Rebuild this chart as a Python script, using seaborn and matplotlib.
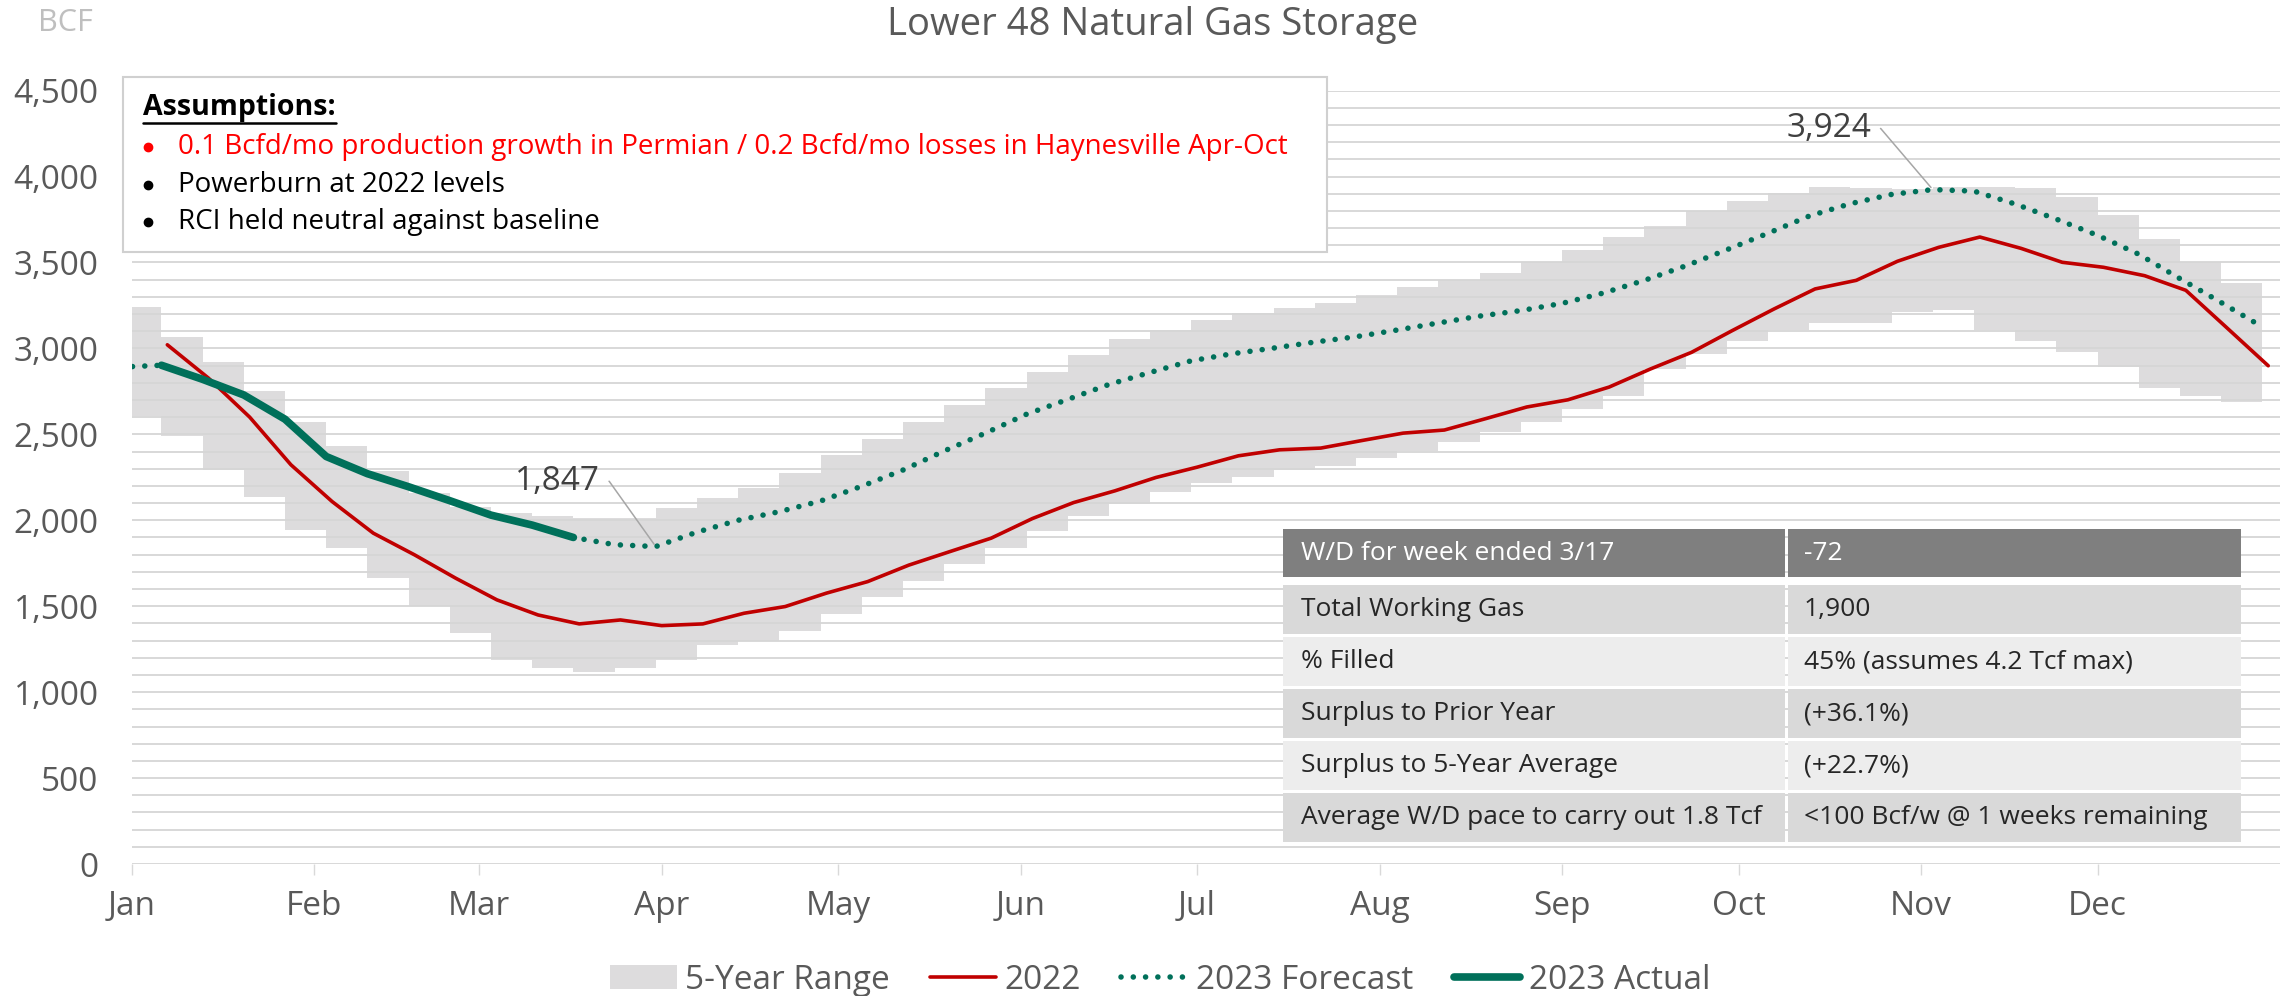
import numpy as np
import pandas as pd
import seaborn as sns
import matplotlib.pyplot as plt
from matplotlib.patches import Rectangle, Patch
from matplotlib.lines import Line2D
from matplotlib.ticker import FuncFormatter, MultipleLocator

## Data (BCF, weekly, weeks ending Friday)
range_high = [3241, 3066, 2922, 2750, 2571, 2433, 2288, 2158, 2080, 2045, 2026, 2012, 2012,
              2070, 2129, 2187, 2274, 2381, 2472, 2569, 2672, 2769, 2860, 2963, 3054, 3109,
              3163, 3206, 3235, 3264, 3313, 3360, 3400, 3440, 3500, 3572, 3649, 3714, 3801,
              3855, 3902, 3941, 3933, 3927, 3941, 3941, 3933, 3882, 3778, 3636, 3504, 3383]
range_low = [2604, 2493, 2290, 2134, 1944, 1837, 1663, 1502, 1343, 1187, 1139, 1119, 1139,
             1187, 1277, 1297, 1358, 1455, 1552, 1649, 1746, 1837, 1935, 2022, 2096, 2167,
             2216, 2251, 2290, 2313, 2362, 2405, 2455, 2513, 2574, 2645, 2723, 2878, 2966,
             3044, 3106, 3150, 3150, 3214, 3222, 3106, 3044, 2981, 2892, 2768, 2723, 2690]
storage_2022 = [3021, 2827, 2600, 2323, 2109, 1925, 1799, 1663, 1537, 1449, 1397, 1420, 1387,
                1397, 1459, 1498, 1576, 1643, 1739, 1818, 1896, 2010, 2103, 2171, 2249, 2309,
                2375, 2410, 2420, 2464, 2507, 2525, 2591, 2659, 2701, 2775, 2880, 2977, 3105,
                3229, 3346, 3396, 3507, 3588, 3648, 3582, 3501, 3472, 3423, 3338, 3119, 2899]
forecast_2023 = [2891, 2902, 2820, 2729, 2588, 2371, 2271, 2195, 2114, 2030, 1972, 1900, 1858,
                 1847, 1931, 2000, 2050, 2112, 2198, 2292, 2403, 2507, 2617, 2703, 2790, 2860,
                 2928, 2969, 3002, 3037, 3068, 3107, 3148, 3188, 3220, 3262, 3322, 3396, 3480,
                 3574, 3670, 3770, 3842, 3896, 3924, 3915, 3840, 3752, 3658, 3548, 3406, 3267, 3125]
actual_2023 = [2902, 2820, 2729, 2588, 2371, 2271, 2195, 2114, 2030, 1972, 1900]

months = ['Jan', 'Feb', 'Mar', 'Apr', 'May', 'Jun', 'Jul', 'Aug', 'Sep', 'Oct', 'Nov', 'Dec']

assumptions = ['0.1 Bcfd/mo production growth in Permian / 0.2 Bcfd/mo losses in Haynesville Apr-Oct',
               'Powerburn at 2022 levels',
               'RCI held neutral against baseline']
table_header = ['W/D for week ended 3/17', '-72']
table_labels = ['Total Working Gas', '% Filled', 'Surplus to Prior Year',
                'Surplus to 5-Year Average', 'Average W/D pace to carry out 1.8 Tcf']
table_values = ['1,900', '45% (assumes 4.2 Tcf max)', '(+36.1%)', '(+22.7%)',
                '<100 Bcf/w @ 1 weeks remaining']

## Dates
weeks_2023 = pd.date_range('2023-01-06', periods=52, freq='7D')
weeks_2022 = pd.date_range('2022-01-07', periods=52, freq='7D') + pd.DateOffset(years=1)
fc_dates = pd.date_range('2022-12-30', periods=len(forecast_2023), freq='7D')
band_x = weeks_2023.insert(0, weeks_2023[0] - pd.Timedelta(days=7))
band_hi = [range_high[0]] + range_high
band_lo = [range_low[0]] + range_low

red = '#c00000'
green = '#00705a'
band_col = '#dddcdd'
txt = '#595959'

sns.set_theme(style='white')
plt.rcParams['font.family'] = ['Open Sans', 'DejaVu Sans']

W, H = 2292, 996
fig = plt.figure(figsize=(W / 100, H / 100), dpi=100)
ax = fig.add_axes([132 / W, 1 - 864 / H, 2148 / W, (864 - 90.6) / H])

def fx(px):
    return px / W

def fy(py):
    return 1 - py / H

## Plot
ax.fill_between(band_x, band_lo, band_hi, step='pre', color=band_col, lw=0, zorder=1)
sns.lineplot(x=weeks_2022, y=storage_2022, color=red, linewidth=2.6, ax=ax, zorder=3)
sns.lineplot(x=fc_dates, y=forecast_2023, color=green, linewidth=4.0, ax=ax, zorder=4,
             linestyle=(0, (0.01, 2.2)), dash_capstyle='round')
sns.lineplot(x=weeks_2023[:len(actual_2023)], y=actual_2023, color=green, linewidth=5.5,
             ax=ax, zorder=5, solid_capstyle='round')

ax.set_xlim(pd.Timestamp('2023-01-01'), pd.Timestamp('2024-01-01'))
ax.set_ylim(0, 4500)
ax.yaxis.set_major_locator(MultipleLocator(500))
ax.yaxis.set_minor_locator(MultipleLocator(100))
ax.yaxis.set_major_formatter(FuncFormatter(lambda v, p: f'{int(v):,}'))
ax.set_axisbelow('line')
ax.yaxis.grid(True, which='both', color='#d6d6d6', lw=1.3)
ax.xaxis.grid(False)
ax.set_xticks(pd.date_range('2023-01-01', periods=12, freq='MS'))
ax.set_xticklabels(months)
ax.tick_params(axis='y', which='both', length=0, pad=24, labelsize=24, labelcolor=txt)
ax.tick_params(axis='x', length=8, width=1, color='#d9d9d9', pad=11, labelsize=24,
               labelcolor=txt, bottom=True)
for s in ax.spines.values():
    s.set_visible(False)
ax.set_xlabel('')
ax.set_ylabel('')

## Data labels
def label_point(i, dx, dy):
    ax.annotate(f'{forecast_2023[i]:,}', xy=(fc_dates[i], forecast_2023[i]), xytext=(dx, dy),
                textcoords='offset points', ha='right', va='center', fontsize=24, color='#404040',
                zorder=6,
                arrowprops=dict(arrowstyle='-', color='#a6a6a6', lw=1.1, relpos=(1, 0.5),
                                shrinkA=4, shrinkB=2,
                                connectionstyle='arc,angleA=0,angleB=0,armA=9,armB=0,rad=0'))

label_point(int(np.argmin(forecast_2023)), -40, 47)
label_point(int(np.argmax(forecast_2023)), -44, 44)

## Titles
fig.text(0.503, fy(25), 'Lower 48 Natural Gas Storage', ha='center', va='center',
         fontsize=27.5, color=txt)
fig.text(fx(65), fy(23), 'BCF', ha='center', va='center', fontsize=22, color='#bfbfbf')

## Assumptions box
fig.add_artist(Rectangle((fx(123), fy(252)), fx(1327 - 123), (252 - 77) / H,
                         transform=fig.transFigure, facecolor='white', edgecolor='#d0d0d0',
                         lw=1.5, zorder=5))
head = fig.text(fx(143), fy(108), 'Assumptions:', ha='left', va='center', fontsize=20.5,
                fontweight='bold', color='black', zorder=6)
fig.canvas.draw()
bb = head.get_window_extent()
fig.add_artist(Line2D([bb.x0 / W, bb.x1 / W], [fy(123), fy(123)], transform=fig.transFigure,
                      color='black', lw=1.8, zorder=6))
for k, line in enumerate(assumptions):
    c = '#ff0000' if k == 0 else 'black'
    yy = fy([147, 185, 222][k])
    fig.add_artist(Line2D([fx(148)], [yy], transform=fig.transFigure, marker='o',
                          markersize=6, color=c, lw=0, zorder=6))
    fig.text(fx(178), yy, line, ha='left', va='center', fontsize=20, color=c, zorder=6)

## Summary table
col_x = [1283, 1786, 2241]
rows = [table_header] + [[a, b] for a, b in zip(table_labels, table_values)]
fills = ['#7f7f7f', '#d9d9d9', '#ededed', '#d9d9d9', '#ededed', '#d9d9d9']
for r, (row, fc) in enumerate(zip(rows, fills)):
    top = 529 if r == 0 else 585 + (r - 1) * 52
    bot = top + (48 if r == 0 else 49)
    for c in range(2):
        x0 = col_x[c] + (2 if c == 1 else 0)
        fig.add_artist(Rectangle((fx(x0), fy(bot)), fx(col_x[c + 1] - x0 - (1 if c == 0 else 0)),
                                 (bot - top) / H, transform=fig.transFigure, facecolor=fc,
                                 lw=0, zorder=5))
        fig.text(fx(col_x[c] + 18), fy((top + bot) / 2), row[c], ha='left', va='center',
                 fontsize=19, color='white' if r == 0 else '#262626', zorder=6)

## Legend
handles = [Patch(facecolor=band_col, edgecolor='none'),
           Line2D([], [], color=red, lw=2.6),
           Line2D([], [], color=green, lw=4.0, linestyle=(0, (0.01, 2.2)), dash_capstyle='round'),
           Line2D([], [], color=green, lw=5.5)]
leg = fig.legend(handles, ['5-Year Range', '2022', '2023 Forecast', '2023 Actual'],
                 loc='center', bbox_to_anchor=(1160 / W, fy(980)), ncol=4, frameon=False,
                 fontsize=24, handlelength=2.0, handletextpad=0.25, columnspacing=1.2,
                 labelcolor=txt)

fig.savefig('out.png', dpi=100)
